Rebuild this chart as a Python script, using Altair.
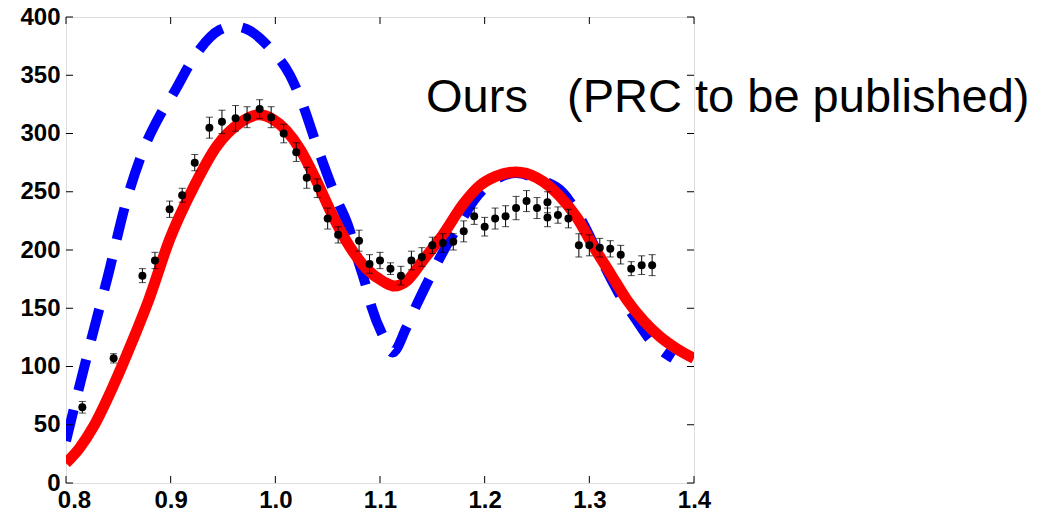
import altair as alt
import pandas as pd

# ---- data ----
data_x = [0.8156, 0.8455, 0.873, 0.885, 0.899, 0.911, 0.923, 0.937, 0.949, 0.962,
          0.973, 0.985, 0.996, 1.008, 1.020, 1.030, 1.040, 1.050, 1.060, 1.080,
          1.090, 1.100, 1.110, 1.120, 1.130, 1.140, 1.150, 1.160, 1.170, 1.180,
          1.190, 1.200, 1.210, 1.220, 1.230, 1.240, 1.250, 1.260, 1.260, 1.270,
          1.280, 1.290, 1.300, 1.310, 1.320, 1.330, 1.340, 1.350, 1.360]
data_y = [65, 107, 178, 191, 235, 247, 275, 305, 310, 313,
          314, 321, 314, 300, 284, 262, 253, 227, 213, 208,
          188, 191, 184, 178, 191, 194, 204, 206, 207, 216,
          229, 220, 227, 229, 236, 242, 236, 241, 228, 230,
          227, 204, 204, 202, 201, 196, 184, 187, 187]
data_err = [5, 4, 6, 7, 7, 6, 7, 9, 10, 11,
            9, 8, 9, 8, 8, 9, 8, 9, 7, 9,
            8, 7, 5, 8, 8, 8, 7, 8, 7, 9,
            7, 8, 9, 9, 10, 9, 9, 9, 8, 7,
            8, 10, 9, 8, 7, 8, 6, 8, 9]

red_x = [0.800, 0.813, 0.826, 0.845, 0.864, 0.879, 0.899, 0.922, 0.944, 0.966,
         0.984, 0.998, 1.024, 1.039, 1.055, 1.071, 1.087, 1.103, 1.114, 1.125,
         1.141, 1.160, 1.180, 1.195, 1.210, 1.230, 1.250, 1.272, 1.288, 1.304,
         1.320, 1.336, 1.352, 1.367, 1.384, 1.400]
red_y = [17, 30, 48, 83, 123, 157, 209, 254, 289, 309,
         316, 312, 286, 260, 229, 203, 184, 173, 169, 173,
         191, 213, 240, 255, 263, 267, 262, 246, 228, 203,
         180, 157, 139, 126, 115, 107]

blue_x = [0.800, 0.812, 0.829, 0.839, 0.858, 0.874, 0.890, 0.903, 0.922, 0.947,
          0.960, 0.976, 0.995, 1.014, 1.024, 1.041, 1.058, 1.071, 1.078, 1.086,
          1.092, 1.103, 1.112, 1.125, 1.135, 1.148, 1.160, 1.175, 1.190, 1.210,
          1.230, 1.250, 1.275, 1.291, 1.310, 1.328, 1.344, 1.358, 1.380]
blue_y = [36, 80, 140, 174, 243, 286, 316, 335, 365, 389,
          392, 388, 373, 350, 330, 286, 245, 217, 194, 171,
          151, 126, 112, 133, 153, 177, 198, 221, 243, 260,
          266, 261, 249, 228, 194, 163, 141, 123, 107]

x_ticks = [0.8, 0.9, 1.0, 1.1, 1.2, 1.3, 1.4]
y_ticks = [0, 50, 100, 150, 200, 250, 300, 350, 400]

note_text = ["Ours\u00a0\u00a0\u00a0(PRC to be published)"]
note_x = [1.144]
note_y = [318.5]

# ---- tables ----
pts = pd.DataFrame({"x": data_x, "y": data_y,
                    "lo": [v - e for v, e in zip(data_y, data_err)],
                    "hi": [v + e for v, e in zip(data_y, data_err)]})
red = pd.DataFrame({"x": red_x, "y": red_y})
blue = pd.DataFrame({"x": blue_x, "y": blue_y})
xt = pd.DataFrame({"x": x_ticks})
yt = pd.DataFrame({"y": y_ticks})
note = pd.DataFrame({"x": note_x, "y": note_y, "t": note_text})

W, H = 628, 466
TL = 7
FONT = "Liberation Sans"

xs = alt.Scale(domain=[0.8, 1.4], nice=False, zero=False)
ys = alt.Scale(domain=[0, 400], nice=False, zero=False)

xax = alt.Axis(values=x_ticks, format=".1f", title=None, domain=False, ticks=False,
               grid=False, labelFont=FONT, labelFontWeight="bold", labelFontSize=24,
               labelColor="black", labelPadding=5, labelFlush=False,
               labelOffset={"condition": {"test": "datum.value < 0.85", "value": 8}, "value": 0})
yax = alt.Axis(values=y_ticks, format="d", title=None, domain=False, ticks=False,
               grid=False, labelFont=FONT, labelFontWeight="bold", labelFontSize=24,
               labelColor="black", labelPadding=6, labelFlush=False)


def X(f="x"):
    return alt.X(f"{f}:Q", scale=xs, axis=xax, title=None)


def Y(f="y"):
    return alt.Y(f"{f}:Q", scale=ys, axis=yax, title=None)


blue_line = alt.Chart(blue).mark_line(color="#0000ff", strokeWidth=10, strokeDash=[32, 20],
                                      interpolate="monotone", clip=True).encode(
    x=X(), y=Y(), order="x:Q")
red_line = alt.Chart(red).mark_line(color="#ff0000", strokeWidth=11,
                                    interpolate="monotone", clip=True).encode(
    x=X(), y=Y(), order="x:Q")
bars = alt.Chart(pts).mark_rule(color="black", strokeWidth=1).encode(
    x=X(), y=Y("lo"), y2="hi:Q")
cap_lo = alt.Chart(pts).mark_tick(color="black", orient="horizontal", size=7, thickness=1).encode(
    x=X(), y=Y("lo"))
cap_hi = alt.Chart(pts).mark_tick(color="black", orient="horizontal", size=7, thickness=1).encode(
    x=X(), y=Y("hi"))
dots = alt.Chart(pts).mark_circle(color="black", size=64, opacity=1).encode(x=X(), y=Y())

tick_b = alt.Chart(xt).mark_rule(color="black", strokeWidth=1).encode(
    x=X(), y=alt.value(H), y2=alt.value(H - TL))
tick_t = alt.Chart(xt).mark_rule(color="black", strokeWidth=1).encode(
    x=X(), y=alt.value(0), y2=alt.value(TL))
tick_l = alt.Chart(yt).mark_rule(color="black", strokeWidth=1).encode(
    y=Y(), x=alt.value(0), x2=alt.value(TL))
tick_r = alt.Chart(yt).mark_rule(color="black", strokeWidth=1).encode(
    y=Y(), x=alt.value(W), x2=alt.value(W - TL))

text = alt.Chart(note).mark_text(align="left", baseline="alphabetic", font=FONT,
                                 fontSize=47, color="black").encode(
    x=X(), y=Y(), text="t:N")

chart = alt.layer(
    blue_line, red_line, bars, cap_lo, cap_hi, dots,
    tick_b, tick_t, tick_l, tick_r, text
).properties(
    width=W, height=H,
    autosize=alt.AutoSizeParams(type="none"),
    padding={"left": 58, "top": 9, "right": 344, "bottom": 28},
).configure_view(stroke="black", strokeWidth=1).configure(background="white")

chart.save("out.html", embed_options={"renderer": "svg", "actions": False})
